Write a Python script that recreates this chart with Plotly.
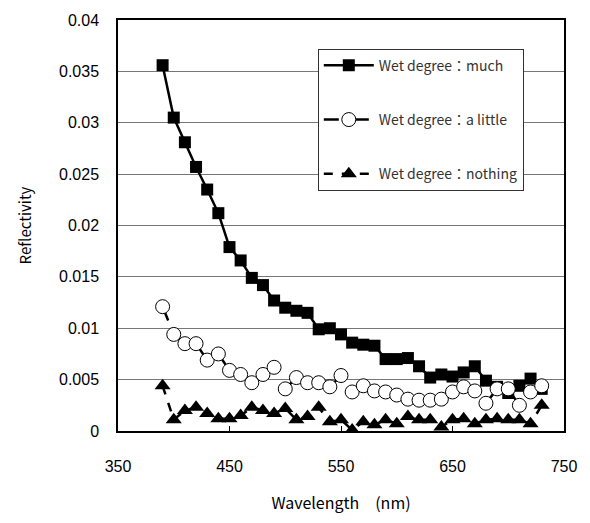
import plotly.graph_objects as go

wavelength = list(range(390, 731, 10))
much = [0.0356, 0.0305, 0.0281, 0.0257, 0.0235, 0.0212, 0.0179, 0.0166, 0.0149, 0.0142,
        0.0127, 0.0120, 0.0117, 0.0115, 0.0099, 0.0100, 0.0094, 0.0086, 0.0084, 0.0083,
        0.0070, 0.0070, 0.0071, 0.0063, 0.0052, 0.0055, 0.0053, 0.0057, 0.0063, 0.0049,
        0.0043, 0.0037, 0.0044, 0.0051, 0.0041]
a_little = [0.0121, 0.0094, 0.0085, 0.0085, 0.0069, 0.0075, 0.0059, 0.0055, 0.0047, 0.0055,
            0.0062, 0.0041, 0.0052, 0.0047, 0.0047, 0.0043, 0.0054, 0.0038, 0.0044, 0.0039,
            0.0038, 0.0035, 0.0031, 0.0030, 0.0030, 0.0031, 0.0038, 0.0043, 0.0039, 0.0027,
            0.0041, 0.0041, 0.0025, 0.0038, 0.0044]
nothing = [0.0044, 0.0011, 0.0020, 0.0023, 0.0017, 0.0012, 0.0012, 0.0015, 0.0023, 0.0020,
           0.0017, 0.0022, 0.0011, 0.0014, 0.0023, 0.0009, 0.0011, 0.0001, 0.0009, 0.0006,
           0.0011, 0.0007, 0.0014, 0.0011, 0.0011, 0.0004, 0.0011, 0.0012, 0.0007, 0.0011,
           0.0012, 0.0011, 0.0011, 0.0007, 0.0025]
names = ["Wet degree：much", "Wet degree：a little", "Wet degree：nothing"]
x_ticks = [350, 450, 550, 650, 750]
y_ticks = [0, 0.005, 0.01, 0.015, 0.02, 0.025, 0.03, 0.035, 0.04]
y_tick_text = ["0", "0.005", "0.01", "0.015", "0.02", "0.025", "0.03", "0.035", "0.04"]

fig = go.Figure()
fig.add_trace(go.Scatter(x=wavelength, y=much, name=names[0], mode="lines+markers",
                         line=dict(color="black", width=2.5),
                         marker=dict(symbol="square", size=12, color="black"),
                         legendgroup="a"))
fig.add_trace(go.Scatter(x=wavelength, y=a_little, name=names[1], mode="lines+markers",
                         line=dict(color="black", width=2.5, dash="longdash"),
                         marker=dict(symbol="circle", size=14, color="white",
                                     line=dict(color="black", width=1)),
                         legendgroup="b"))
fig.add_trace(go.Scatter(x=wavelength, y=nothing, name=names[2], mode="lines+markers",
                         line=dict(color="black", width=2.5, dash="dash"),
                         marker=dict(symbol="triangle-up", size=14, color="black"),
                         legendgroup="c"))

fig.update_layout(
    width=590, height=523,
    margin=dict(l=118, r=26, t=15, b=92),
    paper_bgcolor="white", plot_bgcolor="white",
    font=dict(family="Liberation Sans, Arial, sans-serif", color="black"),
    legend=dict(x=0.448, y=0.93, xanchor="left", yanchor="top",
                bordercolor="#333", borderwidth=1, bgcolor="white",
                font=dict(family="Noto Sans CJK JP", size=14, color="#333"),
                tracegroupgap=33, traceorder="grouped", itemwidth=50),
    xaxis=dict(range=[350, 750], tickvals=x_ticks, ticks="inside", ticklen=5,
               tickcolor="black", showgrid=False, zeroline=False,
               showline=True, linecolor="black", linewidth=1.5, mirror=True,
               tickfont=dict(size=16), ticklabelstandoff=20,
               title=dict(text="Wavelength　(nm)", standoff=24,
                          font=dict(family="Noto Sans CJK JP", size=16))),
    yaxis=dict(range=[0, 0.04], tickvals=y_ticks, ticktext=y_tick_text, ticks="",
               showgrid=True, gridcolor="#777", gridwidth=1, zeroline=False,
               showline=True, linecolor="black", linewidth=1.5, mirror=True,
               tickfont=dict(size=16), ticklabelstandoff=14,
               title=dict(text="Reflectivity", standoff=24,
                          font=dict(family="Noto Sans CJK JP", size=15))),
)
fig.write_html("out.html")
